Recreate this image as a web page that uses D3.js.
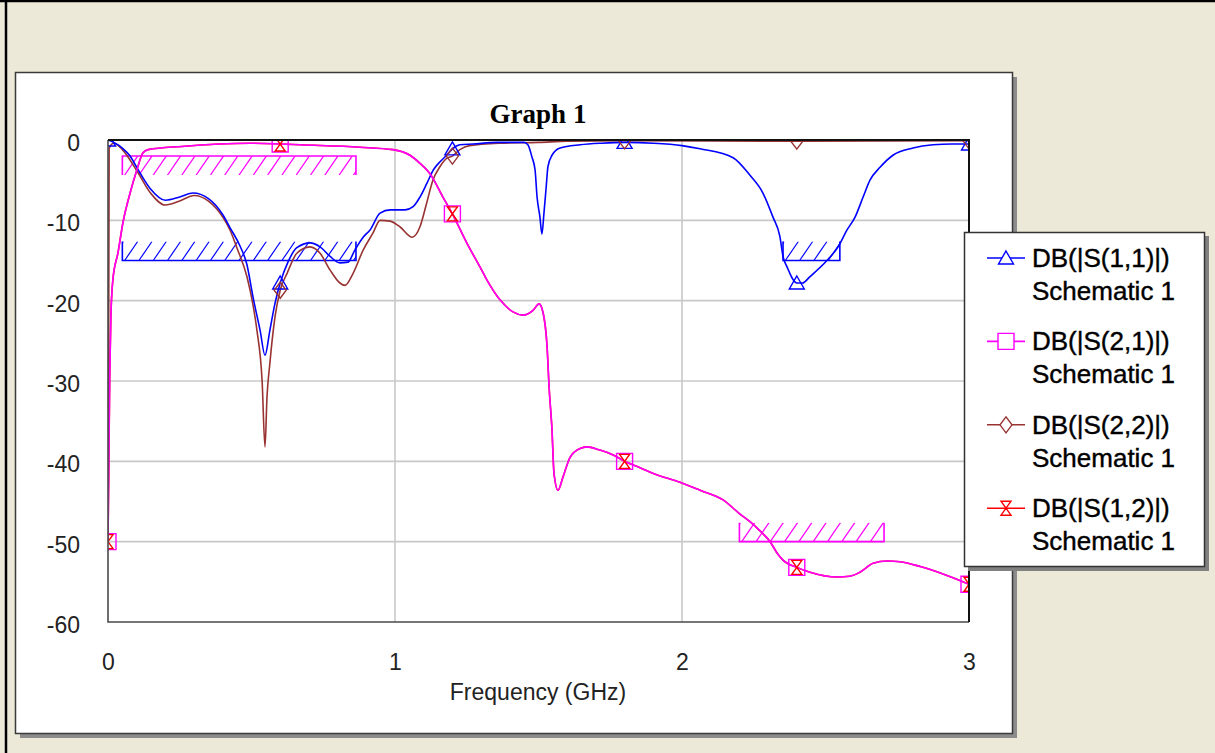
<!DOCTYPE html>
<html>
<head>
<meta charset="utf-8">
<script src="https://cdn.jsdelivr.net/npm/d3@7"></script>
<style>
  html, body { margin: 0; padding: 0; background: #ECE9D8; }
  svg { display: block; }
</style>
</head>
<body>
<svg id="chart" width="1215" height="753"></svg>
<script>
// S-parameter sweep of the filter: [frequency (GHz), magnitude (dB)]
const s11 = [[0,0],[0.02,-0.3],[0.05,-1.0],[0.077,-2.0],[0.1,-3.4],[0.146,-6.0],[0.2,-7.5],[0.25,-7.1],[0.296,-6.6],[0.35,-7.3],[0.4,-9.3],[0.425,-10.9],[0.46,-13.2],[0.484,-15.5],[0.505,-19.5],[0.53,-23.7],[0.547,-26.8],[0.564,-23.7],[0.582,-20.3],[0.6,-17.8],[0.627,-15.2],[0.658,-13.4],[0.704,-12.8],[0.739,-13.3],[0.774,-14.5],[0.808,-15.3],[0.836,-15.2],[0.86,-13.7],[0.889,-12.1],[0.913,-11.2],[0.948,-9.1],[0.983,-8.7],[1.035,-8.7],[1.063,-8.3],[1.087,-7.1],[1.111,-5.4],[1.134,-3.7],[1.157,-2.7],[1.18,-1.9],[1.2,-1.1],[1.226,-0.6],[1.272,-0.5],[1.355,-0.3],[1.45,-0.3],[1.463,-0.6],[1.477,-2.1],[1.488,-3.7],[1.495,-7.1],[1.505,-9.6],[1.512,-11.7],[1.519,-9.1],[1.526,-6.2],[1.533,-3.3],[1.547,-1.9],[1.575,-1.0],[1.645,-0.6],[1.72,-0.4],[1.8,-0.3],[1.9,-0.4],[2.0,-0.7],[2.063,-1.1],[2.178,-2.2],[2.237,-4.4],[2.282,-6.6],[2.317,-9.6],[2.341,-12.0],[2.352,-14.5],[2.366,-15.8],[2.4,-17.8],[2.42,-17.8],[2.446,-17.0],[2.505,-15.0],[2.544,-13.3],[2.575,-11.2],[2.603,-9.6],[2.631,-7.1],[2.655,-5.0],[2.69,-3.4],[2.735,-1.9],[2.805,-1.0],[2.875,-0.6],[2.94,-0.5],[3.0,-0.5]];

const s21 = [[0,-50],[0.003,-40],[0.006,-29.5],[0.01,-22],[0.017,-17.4],[0.035,-14],[0.052,-10.3],[0.077,-6.6],[0.1,-3.8],[0.122,-1.6],[0.14,-1.2],[0.257,-0.8],[0.495,-0.4],[0.6,-0.5],[0.669,-0.6],[0.878,-0.9],[0.993,-1.2],[1.052,-1.9],[1.087,-2.9],[1.122,-4.2],[1.167,-7.1],[1.2,-9.2],[1.25,-12.8],[1.296,-15.8],[1.32,-17.4],[1.366,-19.9],[1.411,-21.4],[1.446,-21.8],[1.481,-21.2],[1.502,-20.4],[1.516,-21.5],[1.53,-25.8],[1.537,-30.8],[1.547,-36.1],[1.554,-41.5],[1.568,-43.6],[1.585,-42],[1.61,-39.5],[1.645,-38.4],[1.668,-38.2],[1.714,-38.6],[1.76,-39.2],[1.8,-40],[1.854,-40.8],[1.9,-41.5],[1.993,-42.6],[2.063,-43.6],[2.143,-44.8],[2.2,-46.5],[2.24,-47.6],[2.27,-48.6],[2.307,-50],[2.331,-51.4],[2.352,-52.3],[2.4,-53.2],[2.446,-53.8],[2.54,-54.4],[2.585,-54.3],[2.62,-53.8],[2.666,-52.7],[2.714,-52.4],[2.76,-52.5],[2.83,-53.1],[2.9,-53.9],[3.0,-55.3]];

const s22 = [[0.001,-43],[0.004,-1.0],[0.02,-0.4],[0.05,-1.2],[0.1,-3.8],[0.146,-6.5],[0.2,-8.1],[0.25,-7.6],[0.3,-6.9],[0.35,-7.6],[0.4,-9.6],[0.425,-11.2],[0.45,-13.5],[0.484,-17],[0.505,-20.5],[0.519,-23.7],[0.537,-30],[0.547,-38.2],[0.554,-32],[0.564,-27.8],[0.582,-22],[0.6,-18.7],[0.624,-16.6],[0.658,-14.1],[0.704,-13.3],[0.739,-14.1],[0.774,-16.2],[0.808,-17.8],[0.826,-18.1],[0.854,-16.6],[0.889,-13.7],[0.923,-11.6],[0.948,-10.0],[0.983,-10.1],[1.017,-10.8],[1.06,-12.1],[1.087,-10.8],[1.11,-7.9],[1.132,-5.0],[1.157,-3.3],[1.18,-2.3],[1.2,-2.0],[1.226,-1.2],[1.26,-0.7],[1.366,-0.4],[1.5,-0.3],[1.6,-0.15],[1.8,-0.1],[2.4,-0.15],[3.0,-0.1]];

// Reciprocal network: the reverse transmission equals the forward one
const s12 = s21;

// Markers are placed every 0.6 GHz along each trace
const markerFreqs = [0, 0.6, 1.2, 1.8, 2.4, 3.0];

// Optimisation goals: band edges (GHz), limit (dB), side that is hatched
const goals = [
  { trace: "S21", f0: 0.05, f1: 0.864, db: -2,  side: "below", color: "#FF00FF" },
  { trace: "S11", f0: 0.05, f1: 0.864, db: -15, side: "above", color: "#0000FF" },
  { trace: "S11", f0: 2.352, f1: 2.55, db: -15, side: "above", color: "#0000FF" },
  { trace: "S21", f0: 2.2,  f1: 2.704, db: -50, side: "above", color: "#FF00FF" }
];

const xTicks = [0, 1, 2, 3];
const yTicks = [0, -10, -20, -30, -40, -50, -60];

const seriesNames = ["DB(|S(1,1)|)", "DB(|S(2,1)|)", "DB(|S(2,2)|)", "DB(|S(1,2)|)"];
const sourceName = "Schematic 1";

const series = [
  { name: seriesNames[0], data: s11, color: "#0000FF", marker: "triangle" },
  { name: seriesNames[1], data: s21, color: "#FF00FF", marker: "square" },
  { name: seriesNames[2], data: s22, color: "#993333", marker: "diamond" },
  { name: seriesNames[3], data: s12, color: "#FF0000", marker: "hourglass" }
];

const svg = d3.select("#chart");
const sans = "'Liberation Sans', Arial, sans-serif";

// window background and frame
svg.append("rect").attr("width", 1215).attr("height", 753).attr("fill", "#ECE9D8");
svg.append("line").attr("x1", 0).attr("x2", 1215).attr("y1", 1).attr("y2", 1).attr("stroke", "#000").attr("stroke-width", 2.5);
svg.append("line").attr("x1", 6).attr("x2", 6).attr("y1", 0).attr("y2", 753).attr("stroke", "#000").attr("stroke-width", 2.5);

// graph panel with drop shadow
svg.append("rect").attr("x", 20).attr("y", 77).attr("width", 997).attr("height", 661).attr("fill", "#8c8c8c");
svg.append("rect").attr("x", 15.5).attr("y", 72.5).attr("width", 997).attr("height", 661)
  .attr("fill", "#ffffff").attr("stroke", "#3a3a3a").attr("stroke-width", 1.5);

const x = d3.scaleLinear().domain([0, 3]).range([108, 969]);
const y = d3.scaleLinear().domain([-60, 0]).range([622, 140]);

// title
svg.append("text").attr("x", 538).attr("y", 123).attr("text-anchor", "middle")
  .attr("font-family", "'Liberation Serif', 'Times New Roman', serif")
  .attr("font-weight", "bold").attr("font-size", 27).attr("fill", "#000").text("Graph 1");

// grid
const grid = svg.append("g").attr("stroke", "#c8c8c8").attr("stroke-width", 1.6);
grid.selectAll(".gy").data(yTicks.filter(v => v !== 0 && v !== -60)).join("line")
  .attr("x1", x(0)).attr("x2", x(3)).attr("y1", d => y(d)).attr("y2", d => y(d));
grid.selectAll(".gx").data(xTicks.filter(v => v !== 0 && v !== 3)).join("line")
  .attr("y1", y(0)).attr("y2", y(-60)).attr("x1", d => x(d)).attr("x2", d => x(d));

// axes (plain hyphen-minus in the labels)
const plain = d => String(d);
const yAxis = svg.append("g").attr("transform", `translate(${x(0)},0)`)
  .call(d3.axisLeft(y).tickValues(yTicks).tickFormat(plain).tickSize(0).tickPadding(28));
yAxis.select(".domain").remove();
yAxis.selectAll("text").attr("font-family", sans).attr("font-size", 23).attr("fill", "#222").attr("dy", 10.5);

const xAxis = svg.append("g").attr("transform", `translate(0,${y(-60)})`)
  .call(d3.axisBottom(x).tickValues(xTicks).tickFormat(plain).tickSize(0).tickPadding(31.5));
xAxis.select(".domain").remove();
xAxis.selectAll("text").attr("font-family", sans).attr("font-size", 23).attr("fill", "#222");

svg.append("text").attr("x", 538).attr("y", 700).attr("text-anchor", "middle")
  .attr("font-family", sans).attr("font-size", 23).attr("fill", "#222").text("Frequency (GHz)");

// plot clip
svg.append("defs").append("clipPath").attr("id", "plotClip")
  .append("rect").attr("x", x(0)).attr("y", y(0)).attr("width", x(3) - x(0)).attr("height", y(-60) - y(0));

// goal markers with hatching
const goalLayer = svg.append("g");
goals.forEach((g, i) => {
  const x0 = x(g.f0), x1 = x(g.f1), yl = y(g.db);
  const depth = 19;
  const yf = g.side === "above" ? yl - depth : yl + depth;
  const top = Math.min(yl, yf), bot = Math.max(yl, yf);
  const cid = "goalClip" + i;
  svg.select("defs").append("clipPath").attr("id", cid)
    .append("rect").attr("x", x0).attr("y", top).attr("width", x1 - x0).attr("height", bot - top);
  const gg = goalLayer.append("g").attr("stroke", g.color).attr("fill", "none");
  const hatch = gg.append("g").attr("clip-path", `url(#${cid})`).attr("stroke-width", 1.2);
  const starts = d3.range(x0 - 12, x1 + 2, 14.3);
  hatch.selectAll("line").data(starts).join("line")
    .attr("x1", d => d).attr("y1", bot).attr("x2", d => d + 13).attr("y2", top);
  gg.append("path").attr("stroke-width", 1.6)
    .attr("d", `M${x0},${yf}L${x0},${yl}L${x1},${yl}L${x1},${yf}`);
});

// traces
const line = d3.line().x(d => x(d[0])).y(d => y(d[1])).curve(d3.curveMonotoneX);
const traceLayer = svg.append("g").attr("clip-path", "url(#plotClip)");
const drawOrder = [3, 2, 0, 1];
drawOrder.forEach(i => {
  traceLayer.append("path").datum(series[i].data)
    .attr("fill", "none").attr("stroke", series[i].color).attr("stroke-width", 1.6)
    .attr("d", line);
});

// marker shapes
const markerPath = {
  triangle: "M0,-7L7.5,6L-7.5,6Z",
  square: "M-8,-8L8,-8L8,8L-8,8Z",
  diamond: "M0,-8L6,0L0,8L-6,0Z",
  hourglass: "M-5,-7L5,-7L-5,7L5,7Z"
};

function valueAt(data, f) {
  const hit = data.find(d => Math.abs(d[0] - f) < 1e-9);
  return hit ? hit[1] : null;
}

const markerLayer = svg.append("g").attr("clip-path", "url(#plotClip)");
[0, 2, 1, 3].forEach(i => {
  const s = series[i];
  const pts = markerFreqs.map(f => [f, valueAt(s.data, f)]).filter(p => p[1] !== null);
  markerLayer.selectAll(null).data(pts).join("path")
    .attr("transform", d => `translate(${x(d[0])},${y(d[1])})`)
    .attr("d", markerPath[s.marker])
    .attr("fill", "none").attr("stroke", s.color).attr("stroke-width", 1.4);
});

// plot frame
const frame = svg.append("g").attr("fill", "none");
frame.append("path").attr("stroke", "#4a4a4a").attr("stroke-width", 1.6)
  .attr("d", `M${x(0)},${y(0)}L${x(0)},${y(-60)}L${x(3)},${y(-60)}`);
frame.append("path").attr("stroke", "#111").attr("stroke-width", 2)
  .attr("d", `M${x(0)},${y(0)}L${x(3)},${y(0)}L${x(3)},${y(-60)}`);

// legend
const lg = svg.append("g");
lg.append("rect").attr("x", 968).attr("y", 236).attr("width", 241).attr("height", 335).attr("fill", "#808080");
lg.append("rect").attr("x", 964.5).attr("y", 232.5).attr("width", 240).attr("height", 334)
  .attr("fill", "#ffffff").attr("stroke", "#333").attr("stroke-width", 1.5);
const entry = lg.selectAll(".entry").data(series).join("g")
  .attr("transform", (d, i) => `translate(0,${258 + i * 83.4})`);
entry.append("line").attr("x1", 987).attr("x2", 1025).attr("y1", 0).attr("y2", 0)
  .attr("stroke", d => d.color).attr("stroke-width", 1.6);
entry.append("path").attr("transform", "translate(1006,0)")
  .attr("d", d => markerPath[d.marker]).attr("fill", "#fff")
  .attr("stroke", d => d.color).attr("stroke-width", 1.4);
entry.append("text").attr("x", 1032).attr("y", 9).attr("font-family", sans).attr("font-size", 26)
  .attr("fill", "#000").attr("stroke", "#000").attr("stroke-width", 0.4).text(d => d.name);
entry.append("text").attr("x", 1032).attr("y", 42).attr("font-family", sans).attr("font-size", 26)
  .attr("fill", "#000").attr("stroke", "#000").attr("stroke-width", 0.4).text(sourceName);
</script>
</body>
</html>
